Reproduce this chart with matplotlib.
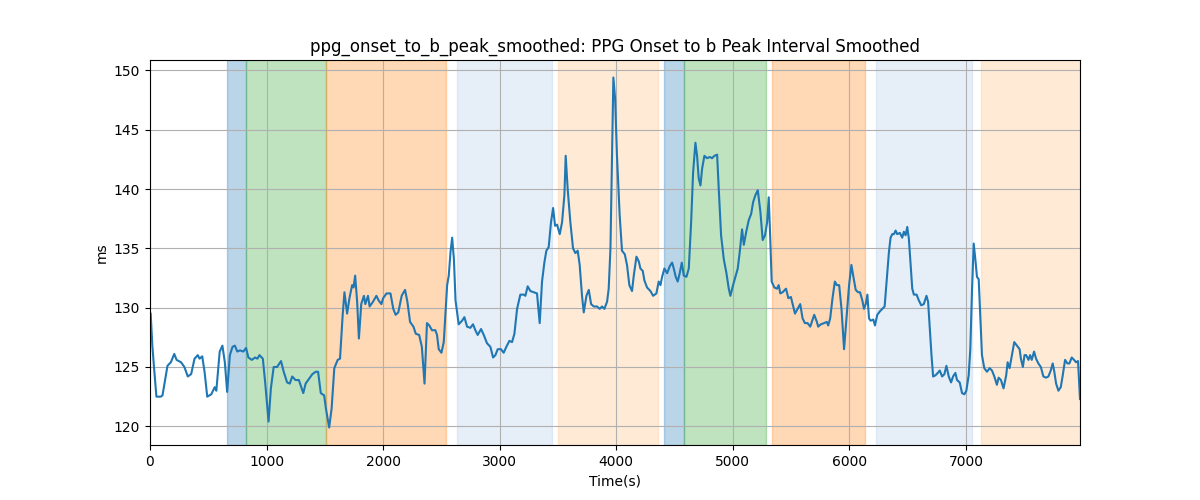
import numpy as np
import matplotlib.pyplot as plt

# values
time_s = [0, 6, 20, 35, 55, 92, 107, 150, 179, 208, 228, 266, 295, 324, 353, 382, 410, 425, 448,
          468, 491, 526, 555, 569, 598, 621, 642, 662, 685, 708, 728, 749, 772, 800, 824, 844,
          873, 902, 922, 939, 968, 988, 1017, 1037, 1061, 1090, 1124, 1147, 1176, 1199, 1220,
          1248, 1277, 1298, 1315, 1335, 1364, 1393, 1422, 1442, 1465, 1494, 1509, 1537, 1558,
          1581, 1610, 1630, 1653, 1668, 1691, 1711, 1734, 1746, 1760, 1777, 1792, 1812, 1835,
          1847, 1870, 1884, 1913, 1942, 1962, 1985, 2000, 2029, 2063, 2087, 2107, 2130, 2159,
          2188, 2208, 2231, 2260, 2280, 2309, 2332, 2355, 2376, 2396, 2419, 2448, 2462, 2477,
          2500, 2520, 2549, 2563, 2578, 2592, 2607, 2621, 2648, 2677, 2697, 2720, 2748, 2771,
          2791, 2811, 2840, 2863, 2891, 2920, 2943, 2963, 2983, 3011, 3034, 3057, 3083, 3106,
          3126, 3149, 3177, 3206, 3220, 3240, 3263, 3292, 3320, 3343, 3363, 3383, 3400, 3420,
          3440, 3458, 3475, 3492, 3515, 3535, 3555, 3566, 3583, 3606, 3629, 3649, 3669, 3686,
          3706, 3721, 3744, 3764, 3784, 3807, 3835, 3858, 3878, 3898, 3921, 3935, 3950, 3964,
          3975, 3990, 4006, 4029, 4049, 4073, 4092, 4112, 4135, 4150, 4173, 4193, 4207, 4227,
          4241, 4264, 4293, 4316, 4344, 4364, 4379, 4393, 4413, 4436, 4459, 4479, 4493, 4510,
          4527, 4544, 4562, 4579, 4602, 4622, 4642, 4659, 4679, 4693, 4707, 4722, 4736, 4756,
          4779, 4802, 4822, 4842, 4865, 4879, 4899, 4922, 4945, 4965, 4979, 5002, 5022, 5042,
          5059, 5079, 5094, 5117, 5137, 5157, 5174, 5194, 5214, 5236, 5256, 5276, 5294, 5308,
          5322, 5333, 5356, 5379, 5393, 5407, 5427, 5456, 5476, 5498, 5513, 5533, 5555, 5578,
          5598, 5618, 5641, 5664, 5678, 5698, 5721, 5732, 5755, 5783, 5806, 5818, 5835, 5855,
          5875, 5892, 5912, 5932, 5954, 5977, 5997, 6017, 6034, 6054, 6074, 6091, 6111, 6125,
          6140, 6154, 6168, 6182, 6205, 6219, 6239, 6262, 6282, 6302, 6319, 6339, 6353, 6368,
          6382, 6396, 6410, 6433, 6453, 6467, 6482, 6496, 6510, 6524, 6539, 6553, 6576, 6596,
          6616, 6638, 6661, 6675, 6690, 6704, 6718, 6738, 6758, 6775, 6795, 6815, 6832, 6852,
          6872, 6889, 6909, 6923, 6946, 6966, 6986, 7003, 7023, 7037, 7052, 7066, 7080, 7094,
          7109, 7123, 7137, 7157, 7180, 7203, 7223, 7243, 7265, 7280, 7300, 7322, 7345, 7357,
          7374, 7394, 7414, 7437, 7460, 7471, 7488, 7502, 7516, 7536, 7550, 7564, 7584, 7601,
          7621, 7642, 7664, 7687, 7707, 7727, 7744, 7756, 7773, 7793, 7813, 7830, 7850, 7870,
          7887, 7907, 7927, 7944, 7961, 7978]
interval_ms = [129.6, 129.5, 126.8, 124.9, 122.5, 122.5, 122.6, 125.1, 125.4, 126.1, 125.6, 125.4,
               125.0, 124.2, 124.4, 125.7, 126.0, 125.7, 125.9, 124.6, 122.5, 122.7, 123.3, 123.0,
               126.3, 126.8, 125.4, 122.9, 126.0, 126.7, 126.8, 126.3, 126.4, 126.3, 126.6, 125.8,
               125.6, 125.8, 125.7, 126.0, 125.7, 123.7, 120.4, 123.2, 125.0, 125.0, 125.5, 124.6,
               123.7, 123.6, 124.2, 123.9, 123.9, 123.3, 122.8, 123.6, 124.0, 124.4, 124.6, 124.6,
               122.8, 122.6, 121.5, 119.9, 121.5, 124.9, 125.6, 125.7, 129.4, 131.3, 129.5, 130.8,
               131.9, 131.7, 132.7, 130.5, 127.4, 130.3, 131.0, 130.3, 131.0, 130.1, 130.5, 131.0,
               130.6, 130.3, 130.8, 131.2, 131.2, 129.9, 129.4, 129.6, 131.0, 131.5, 130.5, 128.8,
               128.4, 127.8, 127.7, 126.7, 123.6, 128.7, 128.5, 128.1, 128.1, 127.7, 126.5, 126.2,
               127.1, 131.9, 132.7, 134.7, 135.9, 134.1, 130.6, 128.6, 128.9, 129.2, 128.4, 128.3,
               128.6, 128.1, 127.7, 128.2, 127.7, 127.0, 126.7, 125.8, 126.0, 126.5, 126.5, 126.2,
               126.7, 127.2, 127.1, 127.8, 129.9, 131.1, 131.1, 131.0, 131.8, 131.4, 131.3, 131.2,
               128.7, 132.2, 133.8, 134.8, 135.1, 137.2, 138.4, 136.9, 137.0, 136.2, 137.2, 139.5,
               142.8, 140.0, 137.2, 135.0, 134.6, 134.8, 133.6, 131.0, 129.6, 131.0, 131.5, 130.3,
               130.1, 130.1, 129.9, 130.1, 129.9, 130.5, 131.6, 135.0, 142.8, 149.4, 147.6, 142.8,
               137.8, 134.8, 134.5, 133.6, 131.9, 131.4, 132.7, 134.3, 133.9, 133.3, 133.1, 132.3,
               131.7, 131.4, 131.0, 131.2, 132.2, 131.9, 132.6, 133.3, 132.9, 133.5, 133.8, 133.3,
               132.6, 132.2, 132.9, 133.8, 132.7, 132.6, 133.3, 137.2, 141.4, 143.9, 142.8, 140.9,
               140.3, 141.7, 142.8, 142.6, 142.7, 142.6, 142.8, 142.9, 140.0, 136.1, 134.1, 132.9,
               131.6, 131.0, 131.9, 132.6, 133.3, 134.7, 136.6, 135.3, 136.5, 137.4, 137.9, 138.9,
               139.5, 139.9, 138.1, 135.7, 136.1, 137.2, 139.3, 135.5, 132.2, 131.7, 131.6, 131.9,
               131.2, 131.3, 131.6, 130.8, 130.9, 130.3, 129.5, 129.9, 130.3, 129.1, 128.7, 128.7,
               128.4, 128.8, 129.4, 128.8, 128.4, 128.6, 128.7, 128.8, 128.5, 129.1, 130.8, 132.2,
               131.9, 131.9, 129.9, 126.5, 129.4, 131.9, 133.6, 132.6, 131.5, 131.3, 131.3, 130.6,
               129.9, 130.3, 131.1, 129.1, 128.9, 129.0, 128.5, 129.4, 129.7, 129.9, 130.1, 132.2,
               134.7, 135.9, 136.2, 136.2, 136.5, 136.2, 136.3, 135.9, 136.4, 136.1, 136.8, 135.8,
               133.8, 131.6, 131.1, 131.1, 130.6, 130.2, 130.3, 131.0, 130.5, 128.2, 126.0, 124.2,
               124.3, 124.5, 124.7, 124.2, 124.4, 125.1, 124.2, 123.7, 124.2, 124.5, 123.9, 123.7,
               122.8, 122.7, 123.0, 124.3, 126.5, 131.6, 135.4, 134.1, 132.6, 132.4, 129.1, 126.0,
               124.9, 124.6, 124.9, 124.7, 124.2, 123.5, 124.1, 123.9, 123.2, 124.3, 125.4, 124.9,
               126.0, 127.1, 126.8, 126.5, 125.7, 125.0, 126.0, 126.0, 125.6, 126.0, 125.6, 126.3,
               125.7, 125.3, 125.0, 124.2, 124.1, 124.2, 124.7, 125.3, 124.7, 123.6, 123.0, 123.3,
               124.3, 125.6, 125.3, 125.3, 125.8, 125.6, 125.4, 125.5, 122.3]

# shaded phases: start, end, colour
span_start = [659, 821, 1510, 2637, 3500, 4413, 4579, 5335, 6225, 7131]
span_end = [821, 1510, 2535, 3449, 4359, 4579, 5282, 6137, 7052, 7978]
span_color = ['tab:blue', 'tab:green', 'tab:orange', '#aec7e8', '#ffbb78',
              'tab:blue', 'tab:green', 'tab:orange', '#aec7e8', '#ffbb78']

fig, ax = plt.subplots(figsize=(12, 5), dpi=100)

for s, e, c in zip(span_start, span_end, span_color):
    ax.axvspan(s, e, color=c, alpha=0.3)

ax.plot(time_s, interval_ms, color='tab:blue', linewidth=1.5)

ax.set_xlim(0, time_s[-1])
ax.set_title('ppg_onset_to_b_peak_smoothed: PPG Onset to b Peak Interval Smoothed')
ax.set_xlabel('Time(s)')
ax.set_ylabel('ms')
ax.grid(True)

plt.savefig('out.png')
